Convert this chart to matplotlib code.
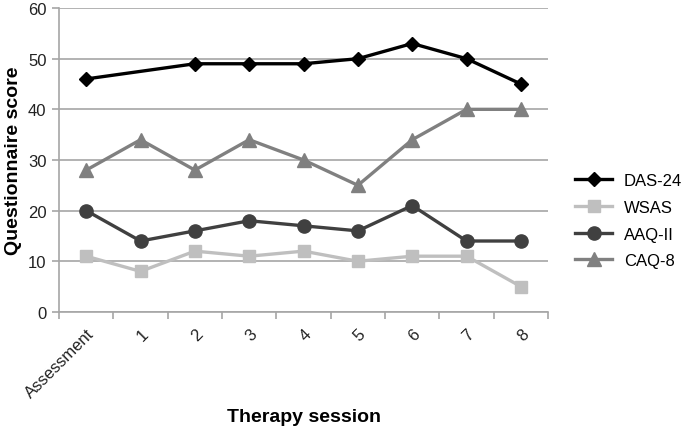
import numpy as np
import matplotlib.pyplot as plt
from matplotlib.ticker import FixedLocator

plt.rcParams['font.family'] = ['Liberation Sans', 'DejaVu Sans']

sessions = ['Assessment', '1', '2', '3', '4', '5', '6', '7', '8']
das24 = [46, np.nan, 49, 49, 49, 50, 53, 50, 45]
wsas = [11, 8, 12, 11, 12, 10, 11, 11, 5]
aaq2 = [20, 14, 16, 18, 17, 16, 21, 14, 14]
caq8 = [28, 34, 28, 34, 30, 25, 34, 40, 40]

fig = plt.figure(figsize=(6.84, 4.31), dpi=100)
ax = fig.add_axes([0.0863, 0.274, 0.715, 0.705])

x = np.arange(len(sessions))

def draw(vals, color, marker, ms, label):
    v = np.array(vals, dtype=float)
    ok = ~np.isnan(v)
    ax.plot(x[ok], v[ok], color=color, marker=marker, markersize=ms,
            linewidth=2.4, label=label, zorder=3)

draw(das24, '#000000', 'D', 7.5, 'DAS-24')
draw(wsas, '#bfbfbf', 's', 9, 'WSAS')
draw(aaq2, '#404040', 'o', 9.5, 'AAQ-II')
draw(caq8, '#808080', '^', 10, 'CAQ-8')

ax.set_xlim(-0.5, len(sessions) - 0.5)
ax.set_ylim(0, 60)
ax.set_yticks(range(0, 61, 10))
ax.yaxis.grid(True, color='#a6a6a6', linewidth=1.2)
ax.set_axisbelow(True)
for s in ['top', 'right']:
    ax.spines[s].set_visible(False)
for s in ['left', 'bottom']:
    ax.spines[s].set_color('#a6a6a6')
    ax.spines[s].set_linewidth(1.2)

ax.set_xticks(x)
ax.set_xticklabels(sessions, rotation=45, ha='right', rotation_mode='anchor')
ax.tick_params(axis='x', which='major', length=0, labelsize=12, pad=10, labelcolor='#222222')
ax.xaxis.set_minor_locator(FixedLocator(np.arange(-0.5, len(sessions), 1.0)))
ax.tick_params(axis='x', which='minor', length=5, color='#a6a6a6', width=1.2, direction='out')
ax.tick_params(axis='y', length=5, color='#a6a6a6', width=1.2, labelsize=12,
               labelcolor='#222222', pad=4)

ax.set_ylabel('Questionnaire score', fontsize=14, fontweight='bold', labelpad=4)
ax.set_xlabel('Therapy session', fontsize=14, fontweight='bold', va='center')
ax.xaxis.set_label_coords(0.5, -0.345)

ax.legend(loc='center left', bbox_to_anchor=(1.025, 0.30), frameon=False,
          fontsize=12, handlelength=2.2, handletextpad=0.7, labelspacing=0.7)

fig.savefig('out.png', dpi=100)
